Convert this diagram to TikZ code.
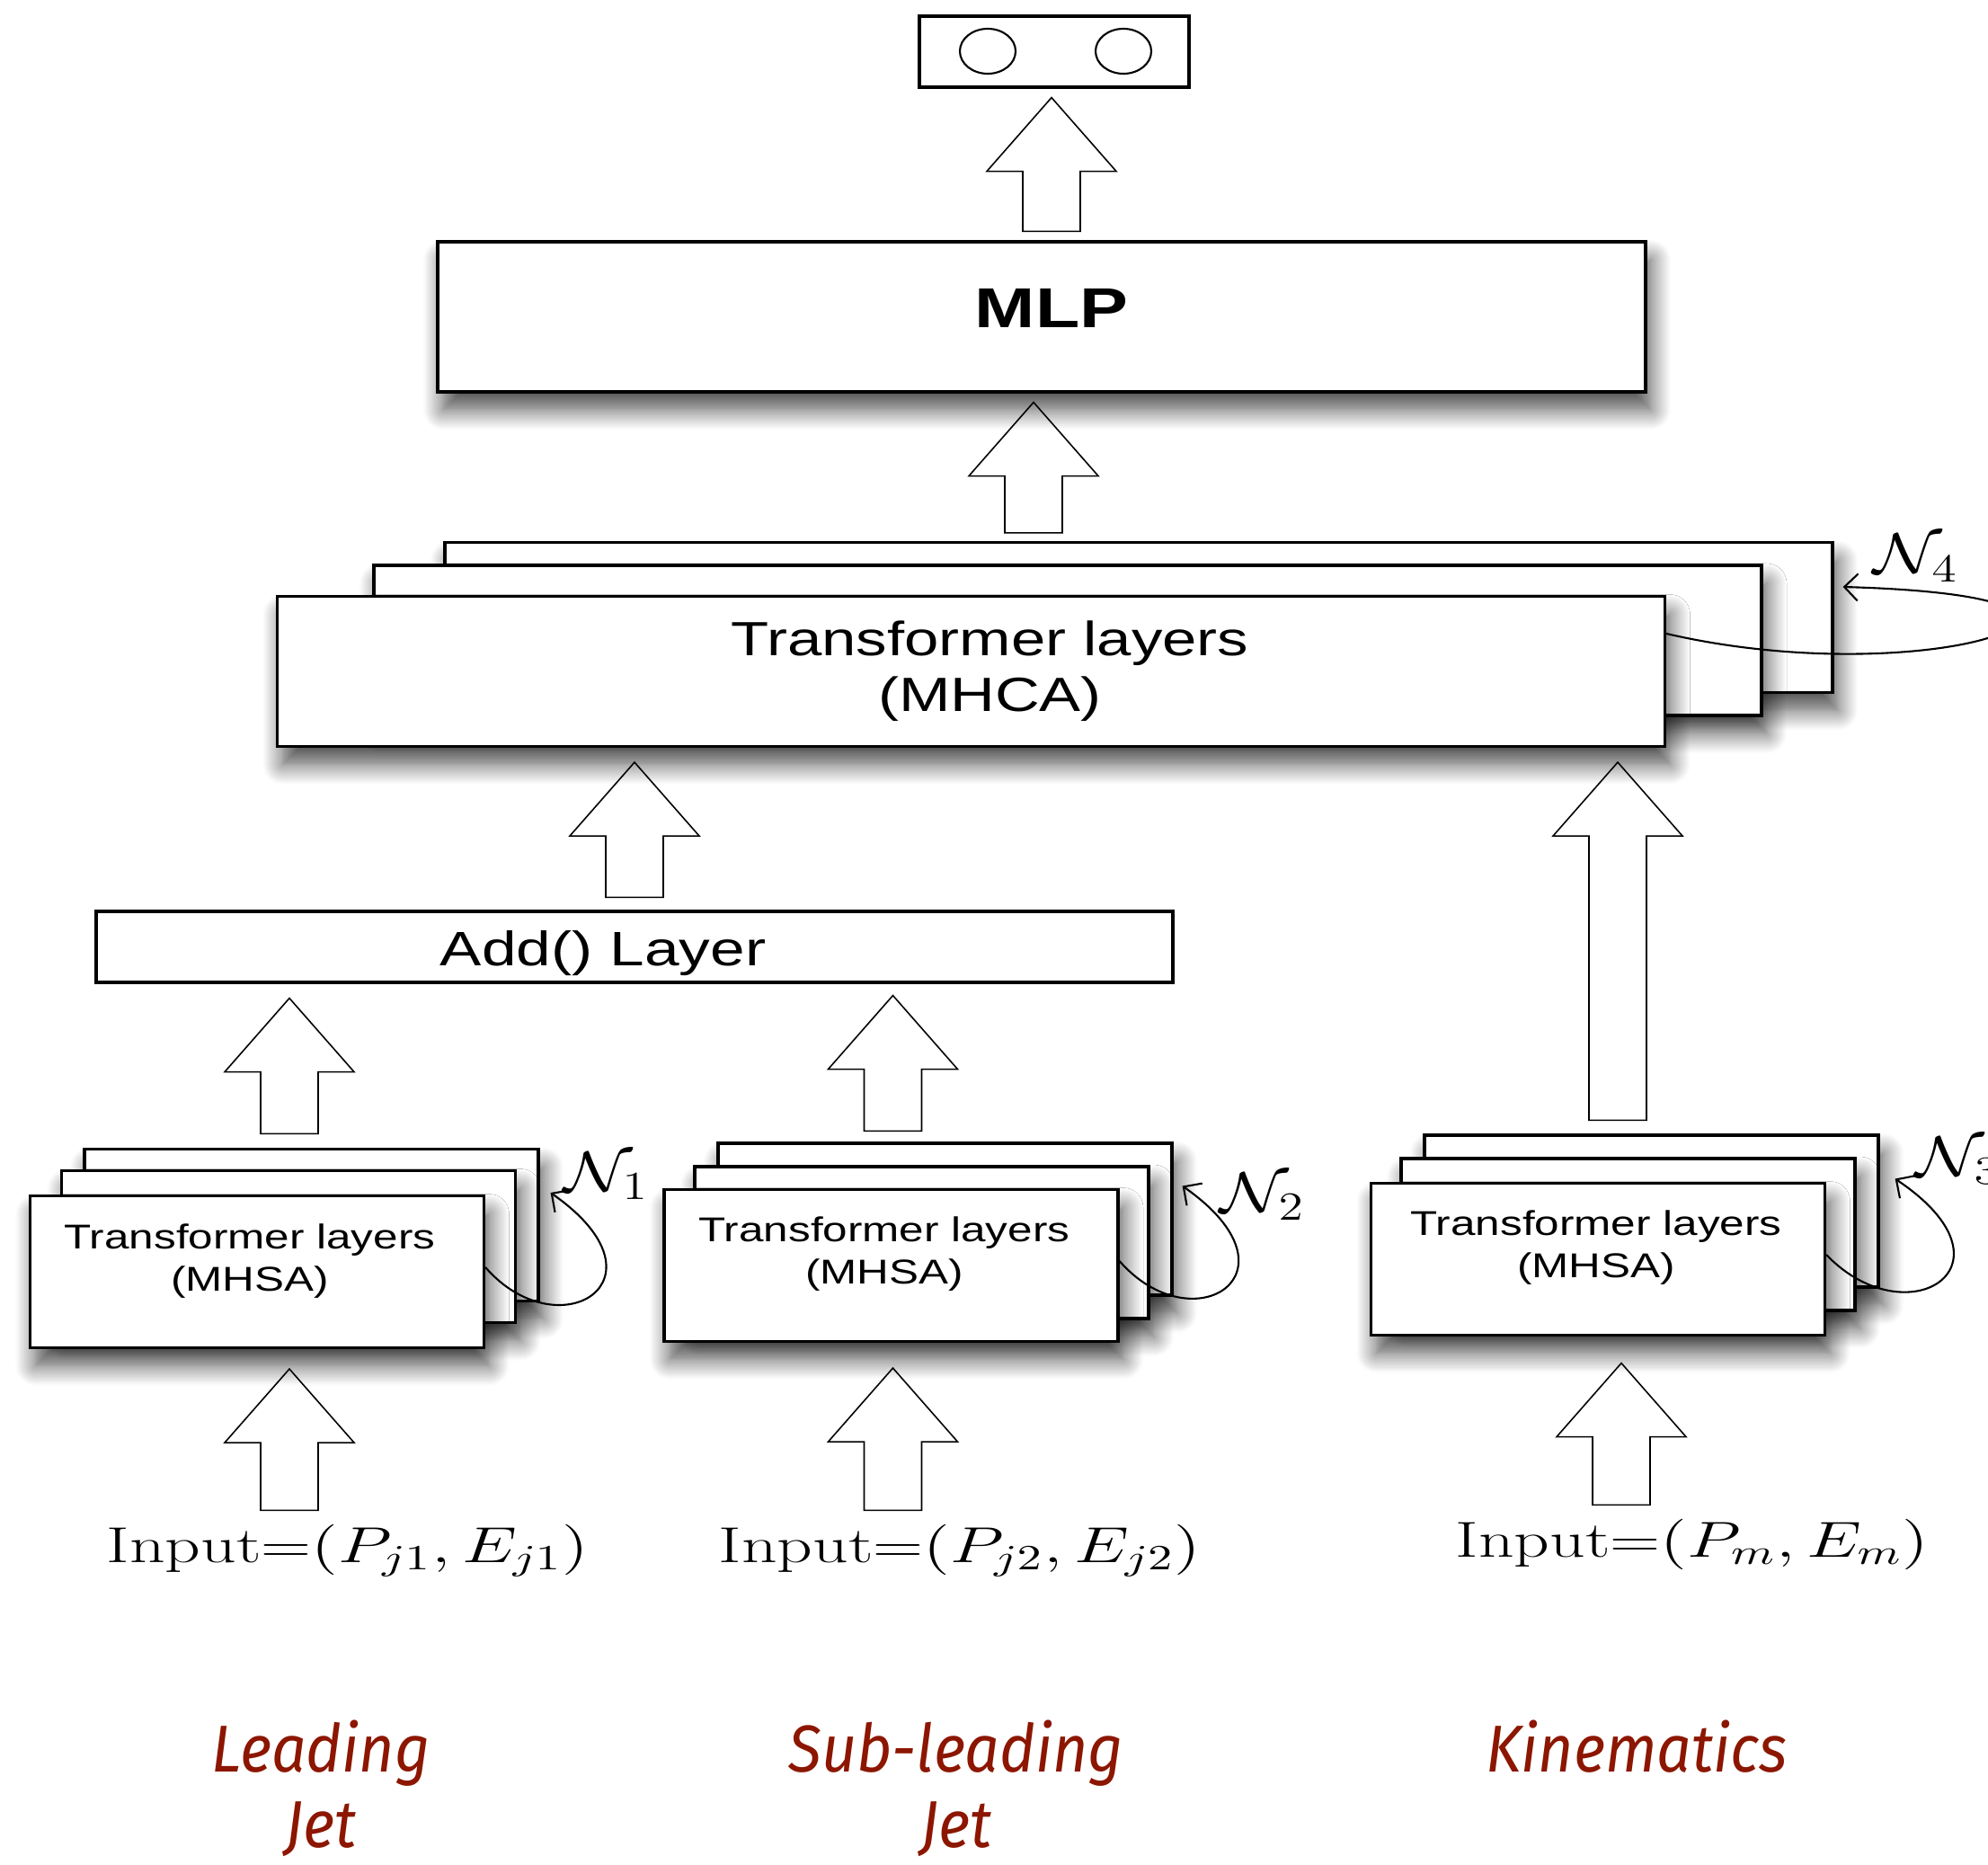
\RequirePackage{fix-cm}
\documentclass[tikz,border=0pt]{standalone}
\usepackage{fontspec}
\usetikzlibrary{calc,shapes.geometric,shadows.blur,arrows.meta}
\newfontfamily\boxfont[FakeStretch=1.29]{Liberation Sans}
\newfontfamily\tagfont[FakeStretch=0.92]{Fira Sans}
\definecolor{jetred}{RGB}{140,22,0}

\begin{document}
\begin{tikzpicture}[
    box/.style ={draw, line width=0.9pt, fill=white, inner sep=0pt},
    shadowed/.style ={blur shadow={shadow xshift=0.06cm, shadow yshift=-0.2cm,
        shadow blur radius=0.22cm, shadow blur steps=12, shadow opacity=70}},
    mhsa/.style ={box, shadowed, minimum width=5.05cm, minimum height=1.69cm},
    mhsatext/.style ={align=center, font=\boxfont\fontsize{10.9}{13.4}\selectfont},
    mhcalayer/.style ={box, shadowed, minimum width=15.44cm, minimum height=1.67cm},
    mhcatext/.style ={align=center, font=\boxfont\fontsize{15.2}{17.6}\selectfont},
    fat/.style ={draw, line width=0.45pt, to path={let \p1=(\tikztostart), \p2=(\tikztotarget) in
        (\x1-0.32cm,\y1) -- (\x1+0.32cm,\y1) -- (\x1+0.32cm,\y2-0.82cm) -- (\x1+0.72cm,\y2-0.82cm)
        -- (\x1,\y2) -- (\x1-0.72cm,\y2-0.82cm) -- (\x1-0.32cm,\y2-0.82cm) -- cycle}},
    recur/.style ={line width=0.6pt, -{Straight Barb[length=1.5mm,width=3mm]}},
    inputlabel/.style ={font=\fontsize{16}{19}\selectfont},
    nlabel/.style ={anchor=west, inner sep=0pt, font=\fontsize{18}{20}\selectfont},
    tag/.style ={text=jetred, align=center, anchor=north, inner sep=0pt,
        font=\tagfont\itshape\fontsize{21}{24}\selectfont}]
   \useasboundingbox (0,0) rectangle (22.12,20.74);

   \node[box, minimum width=3cm, minimum height=0.79cm] (out) at (11.73,20.165) {};
   \node[draw, line width=0.6pt, ellipse, minimum width=0.62cm, minimum height=0.5cm, inner sep=0pt] (outa) at (10.99,20.17) {};
   \node[draw, line width=0.6pt, ellipse, minimum width=0.62cm, minimum height=0.5cm, inner sep=0pt] (outb) at (12.50,20.17) {};

   \node[box, shadowed, minimum width=13.44cm, minimum height=1.67cm,
         label={[font=\boxfont\bfseries\fontsize{17.8}{20}\selectfont, xshift=0.11cm, yshift=0.10cm]center:MLP}] (mlp) at (11.59,17.215) {};

   \node[mhcalayer] (mhcac) at (12.67,13.87) {};
   \node[mhcalayer] (mhcab) at (11.88,13.615) {};
   \node[mhcalayer, label={[mhcatext, xshift=0.21cm]center:Transformer layers\\(MHCA)}] (mhca) at (10.805,13.27) {};

   \node[box, minimum width=11.98cm, minimum height=0.79cm,
         label={[font=\boxfont\fontsize{15.3}{18}\selectfont, xshift=-0.35cm, yshift=-0.07cm]center:Add() Layer}] (add) at (7.06,10.205) {};

   \node[mhsa] (leadC) at (3.465,7.11) {};
   \node[mhsa] (leadB) at (3.21,6.87) {};
   \node[mhsa, label={[mhsatext, xshift=-0.08cm, yshift=0.12cm]center:Transformer layers\\(MHSA)}] (leadA) at (2.86,6.59) {};

   \node[mhsa] (subC) at (10.515,7.175) {};
   \node[mhsa] (subB) at (10.255,6.915) {};
   \node[mhsa, label={[mhsatext, xshift=-0.075cm, yshift=0.13cm]center:Transformer layers\\(MHSA)}] (subA) at (9.915,6.66) {};

   \node[mhsa] (kinC) at (18.375,7.265) {};
   \node[mhsa] (kinB) at (18.115,7.005) {};
   \node[mhsa, label={[mhsatext, xshift=-0.02cm, yshift=0.13cm]center:Transformer layers\\(MHSA)}] (kinA) at (17.78,6.73) {};

   \node[inputlabel, anchor=base] (inlead) at (3.87,3.36) {\scalebox{1.38}[1]{Input=$(P_{j1}, E_{j1})$}};
   \node[inputlabel, anchor=base] (insub) at (10.68,3.36) {\scalebox{1.38}[1]{Input=$(P_{j2}, E_{j2})$}};
   \node[inputlabel, anchor=base] (inkin) at (18.83,3.42) {\scalebox{1.38}[1]{Input=$(P_{m}, E_{m})$}};

   \node[nlabel] (nlead) at (6.27,7.655) {\scalebox{1.25}[1]{$\mathcal{N}_1$}};
   \node[nlabel] (nsub) at (13.57,7.425) {\scalebox{1.25}[1]{$\mathcal{N}_2$}};
   \node[nlabel] (nkin) at (21.31,7.825) {\scalebox{1.25}[1]{$\mathcal{N}_3$}};
   \node[nlabel] (nmhca) at (20.84,14.53) {\scalebox{1.25}[1]{$\mathcal{N}_4$}};

   \node[tag] (tlead) at (3.57,1.61) {Leading\\Jet};
   \node[tag] (tsub) at (10.64,1.61) {Sub-leading\\Jet};
   \node[tag] (tkin) at (18.21,1.61) {Kinematics};

   \draw[fat] ($(mlp.north)+(0.11,0.10)$) to ($(out.south)+(0,-0.10)$);
   \draw[fat] ($(mhcac.north)+(-1.17,0.09)$) to ($(mlp.south)+(0,-0.10)$);
   \draw[fat] ($(add.north)+(0,0.14)$) to ($(mhca.south)+(0,-0.16)$);
   \draw[fat] ($(leadC.north)+(-0.245,0.155)$) to ($(add.south)+(0,-0.16)$);
   \draw[fat] ($(subC.north)+(-0.58,0.12)$) to ($(add.south)+(0,-0.13)$);
   \draw[fat] ($(kinC.north)+(-0.375,0.15)$) to ($(mhca.south)+(0,-0.16)$);
   \draw[fat] ($(inlead.north)+(-0.65,0.03)$) to ($(leadA.south)+(0,-0.22)$);
   \draw[fat] ($(insub.north)+(-0.745,0.03)$) to ($(subA.south)+(0,-0.28)$);
   \draw[fat] ($(inkin.north)+(-0.79,0.03)$) to ($(kinA.south)+(0,-0.295)$);

   \draw[recur] ([yshift=0.05cm]leadA.east) .. controls +(0.82,-0.94) and +(1.39,-0.97) .. ([xshift=0.12cm,yshift=0.36cm]leadC.east);
   \draw[recur] ([yshift=0.05cm]subA.east) .. controls +(0.82,-0.94) and +(1.39,-0.97) .. ([xshift=0.10cm,yshift=0.37cm]subC.east);
   \draw[recur] ([yshift=0.05cm]kinA.east) .. controls +(0.90,-0.94) and +(1.45,-0.97) .. ([xshift=0.17cm,yshift=0.36cm]kinC.east);
   \draw[recur] ([yshift=0.42cm]mhca.east) .. controls +(2.98,-0.69) and +(4.01,-0.11) .. ([xshift=0.10cm,yshift=0.34cm]mhcac.east);
 \end{tikzpicture}
\end{document}
